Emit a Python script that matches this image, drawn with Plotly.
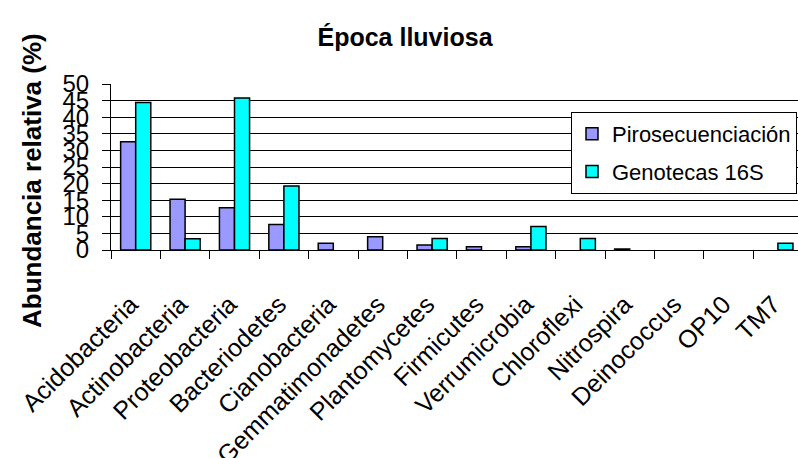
import plotly.graph_objects as go

# data (None = no bar drawn)
categorias = ["Acidobacteria", "Actinobacteria", "Proteobacteria", "Bacteriodetes",
              "Cianobacteria", "Gemmatimonadetes", "Plantomycetes", "Firmicutes",
              "Verrumicrobia", "Chloroflexi", "Nitrospira", "Deinococcus", "OP10", "TM7"]
pirosecuenciacion = [32.6, 15.3, 12.7, 7.7, 2.0, 4.0, 1.5, 1.0, 1.0, None, 0.3, None, None, None]
genotecas_16s = [44.4, 3.4, 45.8, 19.3, None, None, 3.5, None, 7.1, 3.5, None, None, None, 2.0]
y_ticks = [0, 5, 10, 15, 20, 25, 30, 35, 40, 45, 50]

W, H = 798, 458
L, R, T, B = 111, 0, 84, 208
FONT = "Liberation Sans, Arial, sans-serif"

fig = go.Figure()
fig.add_trace(go.Bar(
    x=categorias, y=pirosecuenciacion, name="Pirosecuenciación",
    marker=dict(color="#9999FF", line=dict(color="black", width=1.5)),
    legendgroup="a"))
fig.add_trace(go.Bar(
    x=categorias, y=genotecas_16s, name="Genotecas 16S",
    marker=dict(color="#00FFFF", line=dict(color="black", width=1.5)),
    legendgroup="b"))

plot_w = W - L - R
plot_h = H - T - B
px_per_cat = 49.4
x_end = -0.5 + plot_w / px_per_cat

fig.update_layout(
    width=W, height=H,
    margin=dict(l=L, r=R, t=T, b=B, autoexpand=False),
    paper_bgcolor="white", plot_bgcolor="white",
    font=dict(family=FONT, color="black"),
    barmode="group", bargap=0.39, bargroupgap=0,
    showlegend=True,
    title=dict(text="<b>Época lluviosa</b>", x=405 / W, xanchor="center",
               y=1 - 37 / H, yanchor="middle", yref="container",
               font=dict(size=25, family=FONT, color="black")),
    legend=dict(x=(571 - L) / plot_w, xanchor="left", y=(250 - 112) / plot_h, yanchor="top",
                bgcolor="white", bordercolor="black", borderwidth=1,
                font=dict(size=22, family=FONT, color="black"),
                traceorder="grouped", tracegroupgap=6),
    xaxis=dict(range=[-0.5, x_end], showgrid=False, showline=True, linecolor="black",
               linewidth=1, ticks="outside", tickson="boundaries", ticklen=8,
               tickcolor="black", tickangle=-45, ticklabelstandoff=24, automargin=False,
               tickmode="array", tickvals=categorias,
               ticktext=[c + "\u00a0" for c in categorias],
               tickfont=dict(size=25, family=FONT, color="black")),
    yaxis=dict(range=[0, 50], tickmode="array", tickvals=y_ticks,
               showgrid=True, gridcolor="black", gridwidth=1,
               showline=True, linecolor="black", linewidth=1, automargin=False,
               ticks="outside", ticklen=8, tickcolor="black", ticklabelstandoff=8,
               tickfont=dict(size=24, family=FONT, color="black"), zeroline=False),
)

fig.add_annotation(
    text="<b>Abundancia relativa (%)</b>", textangle=-90,
    xref="paper", yref="paper", x=(32 - L) / plot_w, y=(250 - 181) / plot_h,
    xanchor="center", yanchor="middle", showarrow=False,
    font=dict(size=26, family=FONT, color="black"))

# page body has a default 8px margin; drop it so the figure sits at the window corner
fig.write_html("out.html", config={"displayModeBar": False},
               post_script="document.body.style.margin='0';")
